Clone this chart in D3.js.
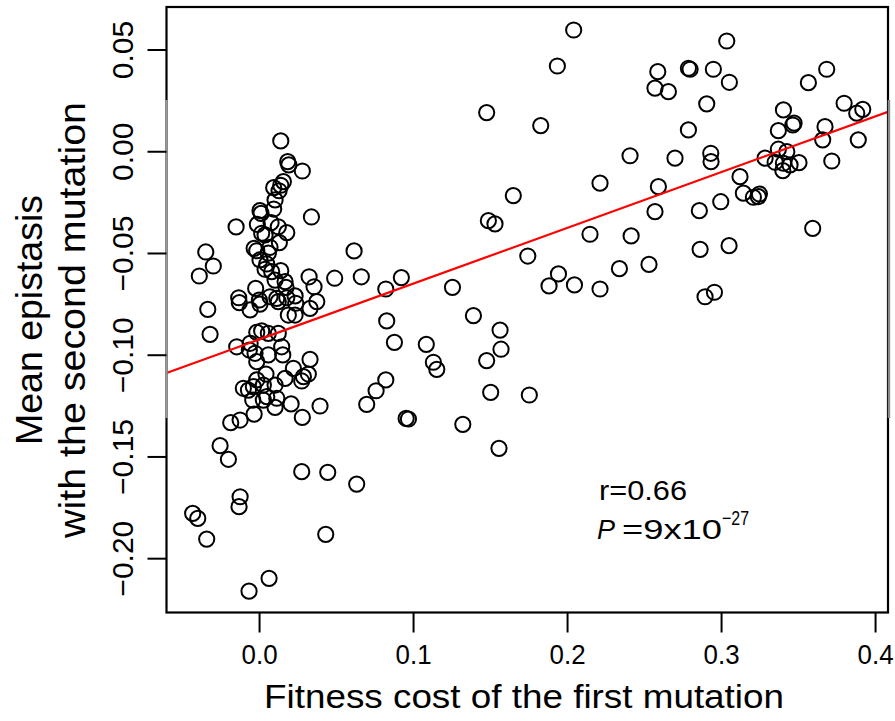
<!DOCTYPE html>
<html>
<head>
<meta charset="utf-8">
<script src="https://cdn.jsdelivr.net/npm/d3@7"></script>
<style>
  body { margin: 0; background: #fff; }
  text { font-family: "Liberation Sans", Arial, sans-serif; fill: #000; }
</style>
</head>
<body>
<div id="chart"></div>
<script>
var width = 895, height = 721;

// fitness cost of the first mutation (x) and mean epistasis (y)
var fitnessCost = [
  0.0141, 0.0186, 0.0193, 0.0281, 0.0158, 0.0141, 0.0095, 0.0130, 0.0104, 0.0095,
  0.0006, 0.0013, 0.0340, -0.0149, -0.0011, 0.0078, 0.0125, 0.0180, 0.0017, 0.0039,
  0.0132, -0.0032, -0.0015, 0.0071, 0.0060, -0.0346, -0.0297, -0.0388, 0.0006, 0.0050,
  0.0039, 0.0082, 0.0141, 0.0104, 0.0169, -0.0022, 0.0175, 0.0325, 0.0357, 0.0491,
  0.0617, 0.0664, 0.0823, 0.0924, -0.0132, -0.0128, -0.0333, 0.0002, 0.0006, 0.0071,
  0.0115, 0.0125, 0.0180, 0.0234, 0.0238, 0.0375,
  -0.0058, 0.0190, 0.0234, 0.0331, -0.0318, 0.0829, 0.0879, -0.0145, -0.0058, -0.0015,
  0.0017, 0.0060, 0.0125, -0.0063, -0.0026, -0.0015, 0.0060, 0.0147, 0.0154, 0.0331,
  0.0223, 0.0288, 0.0320, 0.0277, 0.0045, -0.0015, -0.0037, -0.0102, -0.0069, 0.0028,
  0.0104, 0.0169, 0.0115, 0.0050, -0.0041, 0.0028, 0.0104, 0.0208, 0.0396, -0.0032,
  -0.0123, -0.0184, 0.0281, 0.0699, 0.0760, 0.0823, 0.0955, 0.0970, -0.0253, -0.0199,
  -0.0123, -0.0130, -0.0431, -0.0398, -0.0340, 0.0277, 0.0446, 0.0634, 0.0433, 0.0065,
  -0.0065,
  0.2043, 0.1937, 0.1478, 0.1829, 0.2409, 0.2214, 0.1651, 0.1489, 0.1532, 0.2149,
  0.2416, 0.1745, 0.1944, 0.1883, 0.2048, 0.2214, 0.2340, 0.1256,
  0.1392, 0.1086, 0.1132, 0.1154, 0.1565, 0.1571, 0.1478, 0.1504, 0.1755, 0.1323,
  0.1558,
  0.3037, 0.2589, 0.2571, 0.2658, 0.2788, 0.2799, 0.2950, 0.3054, 0.3686, 0.3567,
  0.2907, 0.3799, 0.3881, 0.3920, 0.3405, 0.3474, 0.3466, 0.3372, 0.3675, 0.3660,
  0.3891, 0.2788, 0.2933, 0.2935, 0.2701, 0.3372, 0.3427, 0.3286, 0.3351, 0.3405,
  0.3448, 0.3506, 0.3401, 0.3719, 0.3123, 0.3145, 0.3210, 0.3249, 0.3242, 0.2998,
  0.2593, 0.2571, 0.2859, 0.3595, 0.2864, 0.3052, 0.2532, 0.2896, 0.2957
];
var epistasis = [
  0.0051, -0.0051, -0.0067, -0.0097, -0.0149, -0.0167, -0.0179, -0.0194, -0.0239, -0.0284,
  -0.0292, -0.0305, -0.0323, -0.0372, -0.0359, -0.0351, -0.0371, -0.0400, -0.0403, -0.0411,
  -0.0449, -0.0477, -0.0489, -0.0472, -0.0501, -0.0495, -0.0564, -0.0613, -0.0534, -0.0554,
  -0.0580, -0.0592, -0.0587, -0.0633, -0.0641, -0.0674, -0.0669, -0.0617, -0.0666, -0.0624,
  -0.0490, -0.0617, -0.0677, -0.0621, -0.0720, -0.0744, -0.0777, -0.0731, -0.0751, -0.0715,
  -0.0723, -0.0739, -0.0720, -0.0711, -0.0747, -0.0739,
  -0.0780, -0.0805, -0.0805, -0.0772, -0.0900, -0.0834, -0.0939, -0.0961, -0.0944, -0.0890,
  -0.0883, -0.0895, -0.0895, -0.0977, -0.0993, -0.1034, -0.1001, -0.0961, -0.1001, -0.1023,
  -0.1067, -0.1108, -0.1095, -0.1129, -0.1095, -0.1124, -0.1157, -0.1165, -0.1174, -0.1149,
  -0.1149, -0.1116, -0.1214, -0.1206, -0.1223, -0.1223, -0.1259, -0.1242, -0.1252, -0.1292,
  -0.1321, -0.1334, -0.1308, -0.1244, -0.1177, -0.1124, -0.1313, -0.1316, -0.1447, -0.1514,
  -0.1698, -0.1747, -0.1780, -0.1804, -0.1906, -0.1575, -0.1578, -0.1636, -0.1883, -0.2099,
  -0.2162,
  0.0596, 0.0419, 0.0190, 0.0126, -0.0022, -0.0157, -0.0218, -0.0341, -0.0357, -0.0408,
  -0.0416, -0.0515, -0.0603, -0.0662, -0.0657, -0.0677, -0.0577, -0.0669,
  -0.0808, -0.0949, -0.1037, -0.1072, -0.0879, -0.0973, -0.1029, -0.1185, -0.1198, -0.1342,
  -0.1460,
  0.0542, 0.0391, 0.0310, 0.0293, 0.0408, 0.0403, 0.0403, 0.0339, 0.0403, 0.0337,
  0.0233, 0.0236, 0.0187, 0.0206, 0.0203, 0.0138, 0.0129, 0.0101, 0.0121, 0.0056,
  0.0056, 0.0105, -0.0010, -0.0051, -0.0034, 0.0010, -0.0002, -0.0034, -0.0054, -0.0059,
  -0.0067, -0.0056, -0.0095, -0.0048, -0.0125, -0.0206, -0.0226, -0.0210, -0.0223, -0.0248,
  -0.0174, -0.0297, -0.0292, -0.0379, -0.0482, -0.0464, -0.0556, -0.0715, -0.0693
];

var xTicks = [0, 0.1, 0.2, 0.3, 0.4];
var yTicks = [0.05, 0, -0.05, -0.10, -0.15, -0.20];

// least squares line
var fitIntercept = -0.0925;
var fitSlope = 0.274;

var svg = d3.select("#chart")
    .append("svg")
    .attr("width", width)
    .attr("height", height);

var plotL = 166.5, plotR = 888, plotT = 7, plotB = 612.5;

var x = d3.scaleLinear().domain([-0.0601, 0.4084]).range([plotL, plotR]);
var y = d3.scaleLinear().domain([-0.2267, 0.0709]).range([plotB, plotT]);

svg.append("clipPath")
    .attr("id", "plotclip")
    .append("rect")
    .attr("x", plotL).attr("y", plotT)
    .attr("width", plotR - plotL).attr("height", plotB - plotT);

// points
svg.append("g")
    .selectAll("circle")
    .data(fitnessCost.map(function(d, i){ return [d, epistasis[i]]; }))
    .join("circle")
    .attr("cx", function(d){ return x(d[0]); })
    .attr("cy", function(d){ return y(d[1]); })
    .attr("r", 7.6)
    .attr("fill", "none")
    .attr("stroke", "#000")
    .attr("stroke-width", 2);

// regression line
svg.append("line")
    .attr("clip-path", "url(#plotclip)")
    .attr("x1", x(x.domain()[0]))
    .attr("y1", y(fitIntercept + fitSlope * x.domain()[0]))
    .attr("x2", x(x.domain()[1]))
    .attr("y2", y(fitIntercept + fitSlope * x.domain()[1]))
    .attr("stroke", "#ff0000")
    .attr("stroke-width", 2.2);

// box
svg.append("rect")
    .attr("x", plotL).attr("y", plotT)
    .attr("width", plotR - plotL).attr("height", plotB - plotT)
    .attr("fill", "none")
    .attr("stroke", "#000")
    .attr("stroke-width", 2.2);

// faded strip on both sides of the frame (as in the scan)
svg.append("line")
    .attr("x1", plotL).attr("x2", plotL).attr("y1", 100).attr("y2", 418)
    .attr("stroke", "#9a9a9a").attr("stroke-width", 2.4);
svg.append("line")
    .attr("x1", plotR + 1).attr("x2", plotR + 1).attr("y1", 100).attr("y2", 418)
    .attr("stroke", "#8a8a8a").attr("stroke-width", 2.4);

// x axis
var xAxis = d3.axisBottom(x)
    .tickValues(xTicks)
    .tickSize(20)
    .tickSizeOuter(0)
    .tickFormat(d3.format(".1f"));
var gx = svg.append("g")
    .attr("transform", "translate(0," + plotB + ")")
    .call(xAxis);
gx.select(".domain").remove();
gx.selectAll(".tick line").attr("stroke", "#000").attr("stroke-width", 2);
gx.selectAll(".tick text")
    .attr("y", 51)
    .attr("dy", null)
    .attr("font-size", 27)
    .attr("font-family", "Liberation Sans, Arial, sans-serif")
    .attr("textLength", 36)
    .attr("lengthAdjust", "spacingAndGlyphs");

// y axis
var yAxis = d3.axisLeft(y)
    .tickValues(yTicks)
    .tickSize(19)
    .tickSizeOuter(0)
    .tickFormat(d3.format(".2f"));
var gy = svg.append("g")
    .attr("transform", "translate(" + plotL + ",0)")
    .call(yAxis);
gy.select(".domain").remove();
gy.selectAll(".tick line").attr("stroke", "#000").attr("stroke-width", 2);
gy.selectAll(".tick text")
    .attr("x", null)
    .attr("dy", null)
    .attr("transform", "translate(-33.5,0) rotate(-90)")
    .attr("text-anchor", "middle")
    .attr("font-size", 30)
    .attr("font-family", "Liberation Sans, Arial, sans-serif");

// axis titles
svg.append("text")
    .text("Fitness cost of the first mutation")
    .attr("x", 524)
    .attr("y", 708)
    .attr("text-anchor", "middle")
    .attr("font-size", "33px")
    .attr("textLength", 520)
    .attr("lengthAdjust", "spacingAndGlyphs");

svg.append("text")
    .text("Mean epistasis")
    .attr("transform", "translate(41.7,320) rotate(-90)")
    .attr("text-anchor", "middle")
    .attr("font-size", "37px")
    .attr("textLength", 250)
    .attr("lengthAdjust", "spacingAndGlyphs");
svg.append("text")
    .text("with the second mutation")
    .attr("transform", "translate(85,320) rotate(-90)")
    .attr("text-anchor", "middle")
    .attr("font-size", "37px")
    .attr("textLength", 436)
    .attr("lengthAdjust", "spacingAndGlyphs");

// statistics
svg.append("text")
    .text("r=0.66")
    .attr("x", 599)
    .attr("y", 500)
    .attr("font-size", "27px")
    .attr("textLength", 88)
    .attr("lengthAdjust", "spacingAndGlyphs");
svg.append("text")
    .text("P")
    .attr("x", 597)
    .attr("y", 539)
    .attr("font-size", "27px")
    .attr("font-style", "italic");
svg.append("text")
    .text("=9x10")
    .attr("x", 622)
    .attr("y", 539)
    .attr("font-size", "27px")
    .attr("textLength", 100)
    .attr("lengthAdjust", "spacingAndGlyphs");
svg.append("text")
    .text("\u221227")
    .attr("x", 722)
    .attr("y", 525)
    .attr("font-size", "20px")
    .attr("textLength", 27)
    .attr("lengthAdjust", "spacingAndGlyphs");
</script>
</body>
</html>
